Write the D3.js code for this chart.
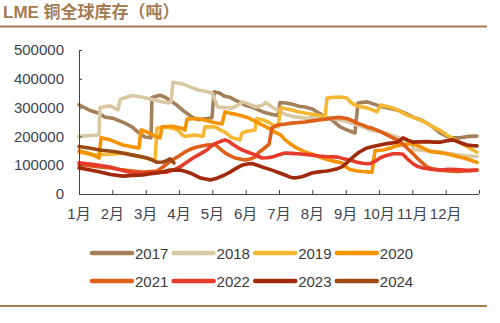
<!DOCTYPE html>
<html><head><meta charset="utf-8">
<script src="https://cdn.jsdelivr.net/npm/d3@7"></script>
<style>
html,body{margin:0;padding:0;background:#fff;}
svg{display:block;}
</style></head>
<body><svg id="c" width="500" height="323"></svg>
<script>
// ---- data (x in months from 1 Jan, value in tonnes) ----
const years = ["2017","2018","2019","2020","2021","2022","2023","2024"];
const colors = ["#A38059","#D9C9A3","#F6B733","#F59300","#DE5F17","#E63A2B","#A02A0B","#9B4A14"];
const monthLabels = ["1月","2月","3月","4月","5月","6月","7月","8月","9月","10月","11月","12月"];
const yTicks = [0,100000,200000,300000,400000,500000];

const s2017 = [[0,310000],[0.33,290000],[0.55,282000],[0.78,267000],[1.05,262000],[1.38,246000],[1.6,232000],[1.77,215000],[1.98,198000],[2.16,195000],[2.19,335000],[2.43,343000],[2.6,335000],[2.73,325000],[2.9,312000],[3.12,290000],[3.42,265000],[3.6,258000],[3.84,262000],[3.99,265000],[4.05,355000],[4.23,350000],[4.35,340000],[4.53,336000],[4.7,325000],[4.83,318000],[5.0,308000],[5.22,300000],[5.52,285000],[5.75,278000],[5.97,272000],[6.03,318000],[6.2,316000],[6.39,312000],[6.6,305000],[6.78,302000],[7.0,295000],[7.17,283000],[7.4,268000],[7.59,257000],[7.83,233000],[8.05,222000],[8.28,212000],[8.37,316000],[8.64,320000],[8.85,312000],[9.03,305000],[9.3,298000],[9.54,292000],[9.8,280000],[10.02,267000],[10.25,258000],[10.53,240000],[10.7,225000],[10.83,212000],[11.13,195000],[11.43,195000],[11.7,200000],[11.94,201000]];
const s2018 = [[0,200000],[0.33,203000],[0.6,205000],[0.63,300000],[0.93,306000],[1.17,292000],[1.23,328000],[1.59,342000],[1.92,336000],[2.13,330000],[2.43,322000],[2.67,316000],[2.76,320000],[2.82,388000],[3.09,383000],[3.33,372000],[3.57,361000],[3.84,356000],[3.99,350000],[4.17,302000],[4.4,300000],[4.59,298000],[4.75,308000],[4.92,320000],[5.1,312000],[5.3,302000],[5.5,308000],[5.6,318000],[5.82,300000],[6.05,285000],[6.24,274000],[6.45,268000],[6.63,266000],[6.84,262000],[7.05,268000],[7.23,270000],[7.44,264000],[7.6,262000],[7.83,257000],[8.1,250000],[8.34,240000],[8.55,232000],[8.73,222000],[9.12,215000],[9.35,205000],[9.54,198000],[9.75,188000],[9.93,177000],[10.0,175000],[10.02,155000],[10.32,152000],[10.6,148000],[10.83,145000],[11.28,138000],[11.6,133000],[11.94,130000]];
const s2019 = [[0,145000],[0.25,140000],[0.48,135000],[0.7,137000],[0.93,138000],[1.15,140000],[1.38,142000],[1.6,135000],[1.89,128000],[2.1,122000],[2.28,118000],[2.34,228000],[2.58,233000],[2.8,228000],[2.97,222000],[3.1,205000],[3.18,200000],[3.48,205000],[3.72,200000],[3.78,233000],[4.08,233000],[4.25,222000],[4.38,215000],[4.59,195000],[4.83,188000],[4.89,212000],[5.05,218000],[5.28,222000],[5.33,262000],[5.5,258000],[5.67,250000],[5.85,238000],[5.97,233000],[6.05,300000],[6.2,296000],[6.39,292000],[6.6,285000],[6.78,281000],[7.0,277000],[7.17,274000],[7.38,267000],[7.44,333000],[7.65,336000],[7.83,337000],[8.04,333000],[8.15,318000],[8.28,309000],[8.45,303000],[8.64,299000],[8.8,292000],[8.94,285000],[9.05,309000],[9.2,305000],[9.42,299000],[9.62,288000],[9.84,274000],[10.05,265000],[10.23,257000],[10.45,245000],[10.62,233000],[10.85,220000],[11.04,205000],[11.25,190000],[11.43,177000],[11.7,160000],[11.94,145000]];
const s2020 = [[0,150000],[0.33,140000],[0.6,125000],[0.66,195000],[0.93,188000],[1.1,180000],[1.32,170000],[1.62,163000],[1.8,160000],[1.86,222000],[2.04,215000],[2.34,198000],[2.43,195000],[2.49,233000],[2.79,235000],[3.09,228000],[3.18,222000],[3.24,260000],[3.54,262000],[3.84,255000],[3.99,250000],[4.17,246000],[4.29,243000],[4.38,285000],[4.55,280000],[4.77,275000],[5.07,265000],[5.25,255000],[5.49,240000],[5.7,228000],[5.88,215000],[6.05,205000],[6.18,188000],[6.33,175000],[6.48,163000],[6.78,146000],[7.0,138000],[7.17,130000],[7.38,122000],[7.59,115000],[7.89,108000],[8.0,95000],[8.13,85000],[8.35,80000],[8.52,78000],[8.79,76000],[8.88,150000],[9.12,153000],[9.35,160000],[9.54,168000],[9.75,172000],[9.93,175000],[10.1,170000],[10.23,165000],[10.4,155000],[10.53,148000],[10.92,142000],[11.15,136000],[11.34,130000],[11.55,125000],[11.73,118000],[11.94,110000]];
const s2021 = [[0,100000],[0.3,98000],[0.63,94000],[0.95,90000],[1.23,85000],[1.6,80000],[1.92,76000],[2.15,78000],[2.34,80000],[2.5,92000],[2.64,105000],[2.8,118000],[2.94,128000],[3.1,140000],[3.24,150000],[3.4,158000],[3.54,163000],[3.84,170000],[4.08,172000],[4.2,160000],[4.38,143000],[4.5,135000],[4.68,125000],[4.98,118000],[5.15,122000],[5.28,128000],[5.4,145000],[5.55,158000],[5.7,172000],[5.79,230000],[5.97,240000],[6.2,243000],[6.39,246000],[6.6,248000],[6.78,250000],[7.0,254000],[7.17,257000],[7.4,260000],[7.59,264000],[7.8,266000],[8.04,262000],[8.2,255000],[8.34,246000],[8.5,240000],[8.64,233000],[8.8,228000],[8.94,222000],[9.1,213000],[9.24,205000],[9.4,196000],[9.54,188000],[9.7,175000],[9.84,160000],[10.0,142000],[10.14,125000],[10.3,108000],[10.44,94000],[10.6,88000],[10.83,83000],[11.1,80000],[11.34,78000],[11.6,80000],[11.94,83000]];
const s2022 = [[0,108000],[0.45,102000],[0.93,94000],[1.3,82000],[1.62,73000],[1.9,72000],[2.13,73000],[2.4,75000],[2.64,76000],[2.85,84000],[3.03,94000],[3.2,108000],[3.42,125000],[3.65,140000],[3.84,153000],[3.95,165000],[4.08,175000],[4.25,183000],[4.38,188000],[4.5,182000],[4.62,172000],[4.75,162000],[4.89,153000],[5.05,146000],[5.19,140000],[5.35,132000],[5.49,125000],[5.65,126000],[5.79,128000],[6.0,136000],[6.18,142000],[6.38,141000],[6.57,140000],[6.8,137000],[6.99,135000],[7.2,132000],[7.38,130000],[7.6,129000],[7.77,128000],[7.95,122000],[8.13,118000],[8.34,110000],[8.55,106000],[8.73,105000],[8.9,115000],[9.03,125000],[9.2,133000],[9.42,140000],[9.6,140000],[9.72,138000],[9.85,122000],[10.02,105000],[10.15,96000],[10.32,90000],[10.55,86000],[10.83,83000],[11.1,86000],[11.34,85000],[11.65,82000],[11.94,83000]];
const s2023 = [[0,90000],[0.3,84000],[0.63,76000],[0.95,68000],[1.32,62000],[1.6,64000],[1.92,66000],[2.15,70000],[2.34,73000],[2.55,78000],[2.73,83000],[3.03,83000],[3.2,78000],[3.33,73000],[3.5,64000],[3.63,56000],[3.8,52000],[3.93,49000],[4.14,55000],[4.35,65000],[4.53,76000],[4.7,88000],[4.89,100000],[5.05,104000],[5.19,106000],[5.35,100000],[5.49,94000],[5.65,88000],[5.79,83000],[6.0,74000],[6.18,66000],[6.3,60000],[6.42,56000],[6.55,57000],[6.69,60000],[6.85,67000],[6.99,73000],[7.15,76000],[7.29,78000],[7.45,80000],[7.59,83000],[7.75,88000],[7.89,94000],[8.05,110000],[8.22,128000],[8.4,145000],[8.64,160000],[8.85,166000],[9.03,170000],[9.25,175000],[9.54,180000],[9.65,188000],[9.72,195000],[9.85,188000],[10.02,180000],[10.2,181000],[10.44,182000],[10.65,180000],[10.83,180000],[11.0,184000],[11.22,188000],[11.45,178000],[11.64,170000],[11.8,168000],[11.94,167000]];
const s2024 = [[0,165000],[0.3,160000],[0.63,153000],[0.9,149000],[1.14,146000],[1.4,140000],[1.62,135000],[1.85,130000],[2.04,125000],[2.2,118000],[2.34,110000],[2.52,111000],[2.63,116000],[2.73,122000],[2.85,108000]];
const seriesData = [s2017,s2018,s2019,s2020,s2021,s2022,s2023,s2024];

// ---- drawing ----
const svg = d3.select("#c");
const x = d3.scaleLinear().domain([0,12]).range([79,479]);
const y = d3.scaleLinear().domain([0,500000]).range([194,50]);
const axisColor = "#444";
const latin = "'Liberation Sans', Arial, 'Noto Sans CJK SC', sans-serif";

// title
svg.append("text").attr("x",3).attr("y",18)
  .attr("font-family",latin).attr("font-weight","bold").attr("font-size",17)
  .attr("fill","#A57B52").text("LME 铜全球库存（吨）");
svg.append("line").attr("x1",0).attr("x2",487).attr("y1",26.5).attr("y2",26.5)
  .attr("stroke","#A67C55").attr("stroke-width",2);
svg.append("line").attr("x1",0).attr("x2",487).attr("y1",306).attr("y2",306)
  .attr("stroke","#A67C55").attr("stroke-width",2);

// lines
const line = d3.line().x(d=>x(d[0])).y(d=>y(d[1]));
seriesData.forEach((s,i)=>{
  svg.append("path").datum(s).attr("d",line)
    .attr("fill","none").attr("stroke",colors[i]).attr("stroke-width",3.6)
    .attr("stroke-linejoin","round").attr("stroke-linecap","round");
});

// y axis
const yAxis = d3.axisRight(y).tickValues(yTicks).tickSize(3).tickFormat("");
const gy = svg.append("g").attr("transform","translate(79,0)").call(yAxis);
gy.select(".domain").attr("stroke",axisColor).attr("d","M0.5,50V194.5");
gy.selectAll(".tick line").attr("stroke",axisColor);
svg.append("g").selectAll("text").data(yTicks).join("text")
  .attr("x",64).attr("y",d=>y(d)).attr("dy","0.35em").attr("text-anchor","end")
  .attr("font-family",latin).attr("font-size",15).attr("fill","#3d4450")
  .text(d=>d3.format("d")(d));

// x axis
const xAxis = d3.axisTop(x).tickValues(d3.range(0,13)).tickSize(4).tickFormat("");
const gx = svg.append("g").attr("transform","translate(0,194)").call(xAxis);
gx.select(".domain").attr("stroke",axisColor).attr("d","M79,0.5H479");
gx.selectAll(".tick line").attr("stroke",axisColor);
svg.append("g").selectAll("text").data(monthLabels).join("text")
  .attr("x",(d,i)=>x(i)).attr("y",219).attr("text-anchor","middle")
  .attr("font-family",latin).attr("font-size",15).attr("fill","#3d4450")
  .text(d=>d);

// legend
const lg = svg.append("g");
years.forEach((yr,i)=>{
  const col = i%4, row = Math.floor(i/4);
  const lx = 92 + col*81.6, ly = 253 + row*28;
  lg.append("line").attr("x1",lx).attr("x2",lx+40).attr("y1",ly).attr("y2",ly)
    .attr("stroke",colors[i]).attr("stroke-width",4.5).attr("stroke-linecap","round");
  lg.append("text").attr("x",lx+43).attr("y",ly+5.5)
    .attr("font-family",latin).attr("font-size",15).attr("fill","#3a3a3a").text(yr);
});
</script></body></html>
